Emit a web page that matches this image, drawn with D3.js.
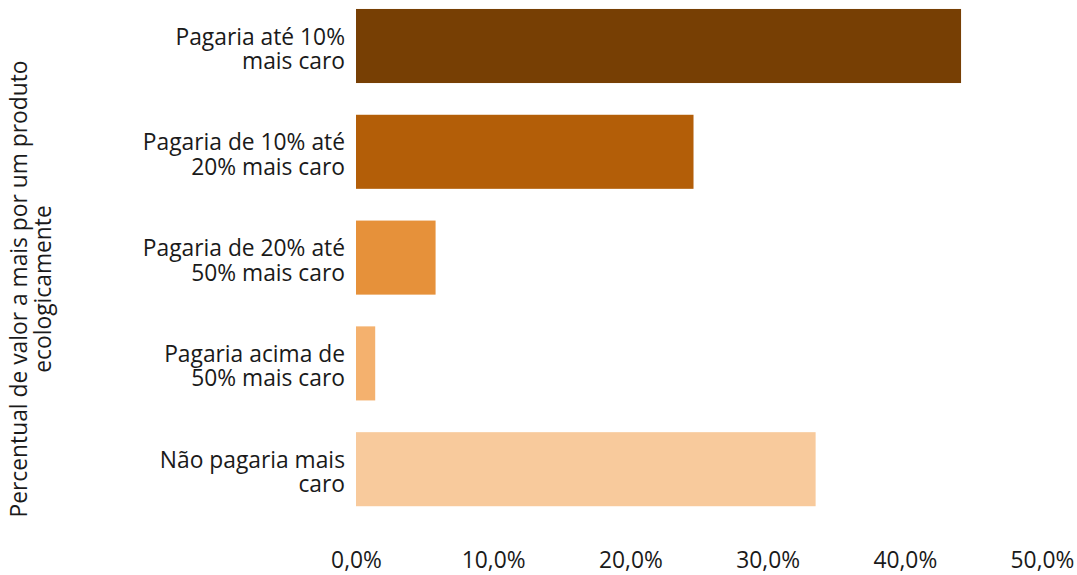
<!DOCTYPE html>
<html>
<head>
<meta charset="utf-8">
<script src="https://cdn.jsdelivr.net/npm/d3@7"></script>
<style>
  html, body { margin: 0; padding: 0; background: #fff; }
  svg { display: block; font-family: "Open Sans", sans-serif; }
</style>
</head>
<body>
<svg id="chart" width="1077" height="575"></svg>
<script>
// Willingness to pay more for an eco-friendly product (share of respondents, %)
const categories = [
  ["Pagaria até 10%", "mais caro"],
  ["Pagaria de 10% até", "20% mais caro"],
  ["Pagaria de 20% até", "50% mais caro"],
  ["Pagaria acima de", "50% mais caro"],
  ["Não pagaria mais", "caro"]
];
const values = [44.1, 24.6, 5.8, 1.4, 33.5];
const barColors = ["#773F04", "#B35E08", "#E6913A", "#F4B16E", "#F8CA9C"];
const tickValues = [0, 10, 20, 30, 40, 50];
const axisTitle = ["Percentual de valor a mais por um produto", "ecologicamente"];

const FONT = "'Open Sans', sans-serif";
const FS = 22.8;
const TEXT = "#1a1a1a";
const svg = d3.select("#chart");
const ids = categories.map((_, i) => i);

const x = d3.scaleLinear().domain([0, 50]).range([356, 1042]);
const y = d3.scaleBand().domain(ids).range([-6.9, 522.1])
  .paddingInner(0.3).paddingOuter(0.15);

// bars
svg.append("g").selectAll("rect")
  .data(ids)
  .join("rect")
  .attr("x", x(0))
  .attr("y", i => y(i))
  .attr("width", i => x(values[i]) - x(0))
  .attr("height", y.bandwidth())
  .attr("fill", i => barColors[i]);

// category labels (two lines, right-aligned)
const lineH = 24.5;
const labels = svg.append("g")
  .attr("font-size", FS)
  .attr("fill", TEXT)
  .attr("text-anchor", "end");
ids.forEach(i => {
  const cy = y(i) + y.bandwidth() / 2;
  const t = labels.append("text").attr("x", 345).attr("y", cy - 1.5);
  categories[i].forEach((line, k) => {
    t.append("tspan").attr("x", 345).attr("dy", k === 0 ? 0 : lineH).text(line);
  });
});

// x axis tick labels (no axis line, no tick marks)
const xAxis = d3.axisBottom(x)
  .tickValues(tickValues)
  .tickSize(0)
  .tickPadding(0)
  .tickFormat(d => d3.format(".1f")(d).replace(".", ",") + "%");
const gx = svg.append("g")
  .attr("transform", "translate(0,568)")
  .call(xAxis);
gx.select(".domain").remove();
gx.selectAll("text")
  .attr("font-family", FONT)
  .attr("font-size", FS)
  .attr("fill", TEXT)
  .attr("y", 0)
  .attr("dy", 0);

// rotated axis title
const title = svg.append("text")
  .attr("transform", "translate(0,289) rotate(-90)")
  .attr("text-anchor", "middle")
  .attr("font-size", FS)
  .attr("fill", TEXT);
axisTitle.forEach((line, k) => {
  title.append("tspan").attr("x", 0).attr("y", 27 + k * 24).text(line);
});
</script>
</body>
</html>
